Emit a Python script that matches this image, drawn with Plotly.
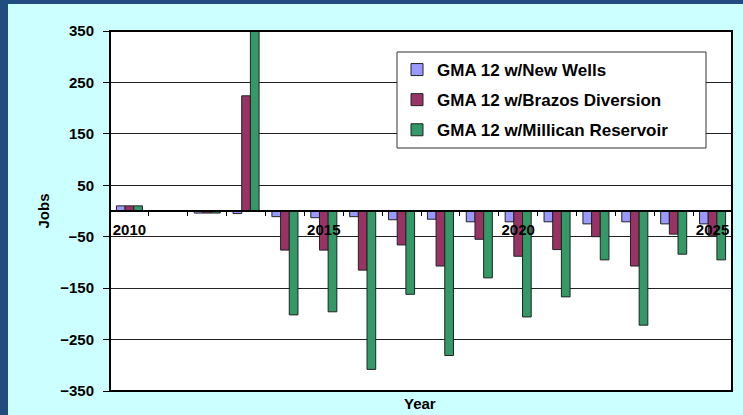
import plotly.graph_objects as go

years = [str(y) for y in range(2010, 2026)]
tick_labels = [y if int(y) % 5 == 0 else "" for y in years]

new_wells = [10, 0, -4, -5, -11, -13, -11, -17, -16, -21, -21, -21, -25, -21, -25, -25]
brazos = [10, 0, -4, 224, -76, -76, -115, -66, -107, -55, -88, -75, -50, -107, -45, -48]
millican = [10, 0, -4, 355, -202, -196, -308, -162, -281, -130, -206, -167, -95, -222, -84, -95]

series = [
    ("GMA 12 w/New Wells", new_wells, "#9999ff"),
    ("GMA 12 w/Brazos Diversion", brazos, "#993366"),
    ("GMA 12 w/Millican Reservoir", millican, "#339966"),
]

W, H = 743, 415
L, R, T, B = 110, 11, 31, 24
PW, PH = W - L - R, H - T - B

def px_x(p):
    return (p - L) / PW

def px_y(p):
    return (H - B - p) / PH

fig = go.Figure()
for i, (name, vals, col) in enumerate(series):
    fig.add_trace(go.Bar(
        x=years, y=vals, name=name, legendgroup=str(i),
        marker=dict(color=col, line=dict(color="#222222", width=1)),
        cliponaxis=False,
    ))

font_fam = "Arial, Liberation Sans, sans-serif"

fig.update_layout(
    width=W, height=H,
    margin=dict(l=L, r=R, t=T, b=B),
    paper_bgcolor="#ccffff",
    plot_bgcolor="white",
    barmode="group", bargap=0.33, bargroupgap=0,
    font=dict(family=font_fam, color="black", size=15, weight="bold"),
    showlegend=True,
    legend=dict(
        x=px_x(397), y=px_y(52), xanchor="left", yanchor="top",
        bgcolor="rgba(0,0,0,0)", borderwidth=0,
        font=dict(size=17, family=font_fam, weight="bold"),
        traceorder="grouped", tracegroupgap=5,
    ),
    xaxis=dict(
        type="category", anchor="free", position=0.5,
        tickmode="array", tickvals=years, ticktext=tick_labels,
        tickson="boundaries", ticks="outside", ticklen=4, tickcolor="black",
        tickangle=0,
        showline=True, linecolor="black", linewidth=1.5,
        showgrid=False, zeroline=False,
        tickfont=dict(size=15, weight="bold"),
        ticklabelstandoff=5,
    ),
    yaxis=dict(
        range=[-350, 350], tick0=-350, dtick=100, tickmode="linear",
        showgrid=True, gridcolor="#222222", gridwidth=1,
        zeroline=True, zerolinecolor="#222222", zerolinewidth=1,
        ticks="outside", ticklen=6, tickcolor="black",
        showline=False,
        tickfont=dict(size=15, weight="bold"),
        ticklabelstandoff=6,
        title=dict(text="Jobs", font=dict(size=15, weight="bold"), standoff=6),
    ),
    shapes=[
        dict(type="rect", xref="paper", yref="paper",
             x0=px_x(0), x1=px_x(8), y0=px_y(H), y1=px_y(0),
             fillcolor="#1f4d80", line=dict(width=0), layer="below"),
        dict(type="rect", xref="paper", yref="paper",
             x0=px_x(0), x1=px_x(W), y0=px_y(4), y1=px_y(0),
             fillcolor="#1f4d80", line=dict(width=0), layer="below"),
        dict(type="rect", xref="paper", yref="paper",
             x0=0, x1=1, y0=0, y1=1,
             line=dict(color="black", width=2), layer="above"),
        dict(type="rect", xref="paper", yref="paper",
             x0=px_x(397), x1=px_x(706), y0=px_y(148), y1=px_y(52),
             fillcolor="white", line=dict(color="#333333", width=1), layer="above"),
    ],
    annotations=[
        dict(text="Year", xref="paper", yref="paper", x=px_x(420), y=px_y(403),
             showarrow=False, font=dict(size=15, weight="bold"),
             xanchor="center", yanchor="middle"),
    ],
)

fig.write_html(
    "out.html",
    config={"displayModeBar": False},
    post_script="document.body.style.margin='0';document.body.style.overflow='hidden';",
)
